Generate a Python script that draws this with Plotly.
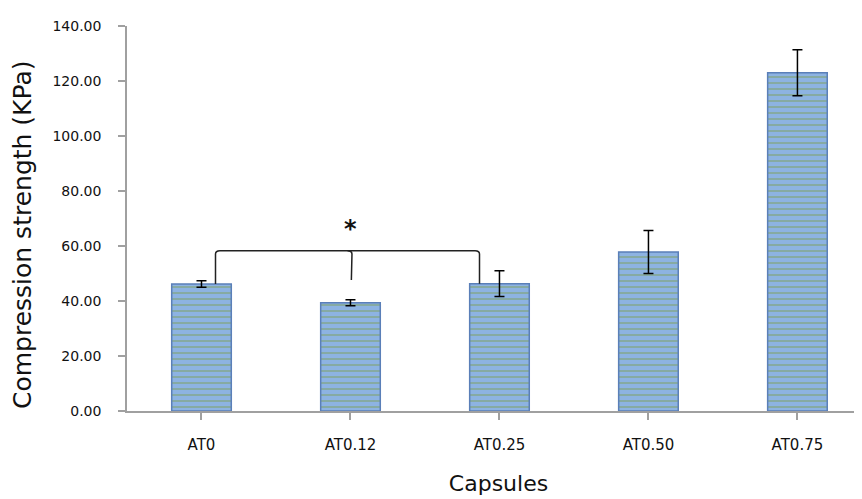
import plotly.graph_objects as go

categories = ["AT0", "AT0.12", "AT0.25", "AT0.50", "AT0.75"]
strength = [46.2, 39.4, 46.3, 57.8, 123.0]
errors = [1.2, 1.1, 4.7, 7.8, 8.4]
y_ticks = [0, 20, 40, 60, 80, 100, 120, 140]
y_tick_labels = ["%.2f" % v for v in y_ticks]
x_title = "Capsules"
y_title = "Compression strength (KPa)"
sig_label = "*"
# bracket over AT0, AT0.12, AT0.25
bracket_level = 58.3
bracket_mid_end = 47.6

font = "DejaVu Sans"

fig = go.Figure()
fig.add_trace(go.Bar(
    x=list(range(len(categories))),
    y=strength,
    width=0.4,
    marker=dict(
        color="#8DB3E2",
        line=dict(color="#5A7FB8", width=1.5),
        pattern=dict(shape="-", fgcolor="#7A9A3A", bgcolor="#8DB3E2",
                     size=6, solidity=0.25),
    ),
    error_y=dict(type="data", array=errors, visible=True,
                 color="black", thickness=1.5, width=5),
))

# significance bracket (positions derived from the bars)
xl = 0 + 0.094
xm = 1 + 0.01
xr = 2 - 0.134
r = 1.2  # corner rounding in data units
rx = 0.03
path = (f"M {xl},{strength[0]} L {xl},{bracket_level - r} "
        f"Q {xl},{bracket_level} {xl + rx},{bracket_level} "
        f"L {xr - rx},{bracket_level} "
        f"Q {xr},{bracket_level} {xr},{bracket_level - r} "
        f"L {xr},{strength[2]}")
fig.add_shape(type="path", path=path, xref="x", yref="y",
              line=dict(color="#222222", width=1.5))
path2 = (f"M {xm - rx},{bracket_level} Q {xm},{bracket_level} {xm},{bracket_level - r} "
         f"L {xm - 0.004},{bracket_mid_end}")
fig.add_shape(type="path", path=path2, xref="x", yref="y",
              line=dict(color="#222222", width=1.5))
fig.add_annotation(x=1, y=bracket_level + 2.0, text="<b>" + sig_label + "</b>", showarrow=False,
                   font=dict(family=font, size=24, color="#111111"),
                   xanchor="center", yanchor="bottom")

# y-axis title as a rotated annotation
fig.add_annotation(xref="paper", yref="paper", x=0, y=0.457, xshift=-105,
                   text=y_title, textangle=-90, showarrow=False,
                   xanchor="center", yanchor="middle",
                   font=dict(family=font, size=25, color="#111111"))

fig.update_layout(
    width=862, height=499,
    margin=dict(l=119, r=0, t=18, b=96),
    plot_bgcolor="white", paper_bgcolor="white",
    showlegend=False,
    font=dict(family=font, color="#111111"),
)
fig.update_xaxes(
    range=[-0.5, 4.487],
    tickvals=list(range(len(categories))),
    ticktext=categories,
    tickson="boundaries",
    ticks="outside", ticklen=7, tickcolor="#A0A0A0", tickwidth=1.5,
    showline=True, linecolor="#A0A0A0", linewidth=1.5,
    showgrid=False, zeroline=False,
    tickfont=dict(family=font, size=15, color="#111111"),
    ticklabelstandoff=12,
    title=dict(text=x_title, font=dict(family=font, size=22, color="#111111"),
               standoff=23),
)
fig.update_yaxes(
    range=[0, 140],
    tickvals=y_ticks, ticktext=y_tick_labels,
    ticks="outside", ticklen=7, tickcolor="#A0A0A0", tickwidth=1.5,
    showline=True, linecolor="#A0A0A0", linewidth=1.5,
    showgrid=False, zeroline=False,
    tickfont=dict(family=font, size=14, color="#111111"),
    ticklabelstandoff=14,
)

fig.write_html("out.html")
